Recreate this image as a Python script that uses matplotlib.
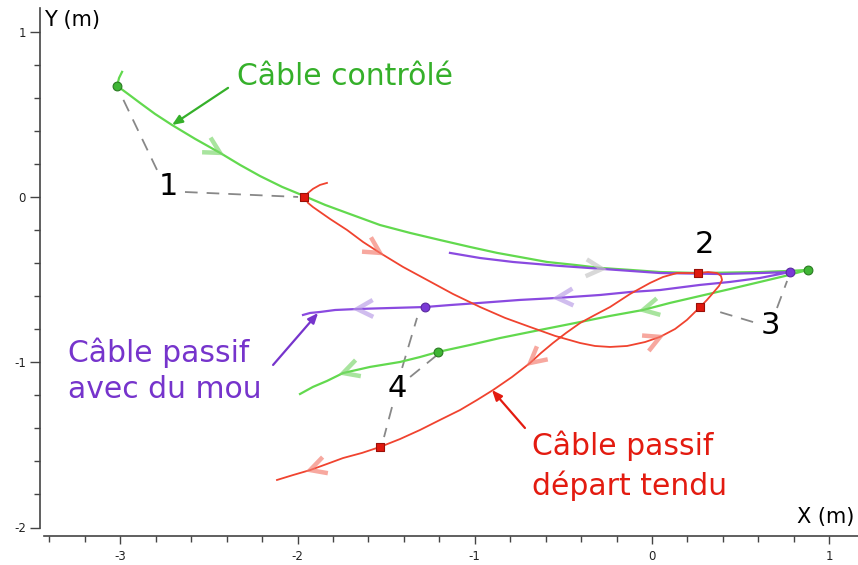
import numpy as np
import matplotlib

matplotlib.use("Agg")
import matplotlib.pyplot as plt
from matplotlib.ticker import MultipleLocator

plt.rcParams["axes.unicode_minus"] = False

# trajectories (m)
green_x = [-2.990, -3.007, -3.018, -2.956, -2.889, -2.804, -2.708, -2.578, -2.437, -2.324,
           -2.212, -2.087, -1.963, -1.845, -1.721, -1.535, -1.365, -1.196, -1.027, -0.874,
           -0.745, -0.592, -0.434, -0.293, -0.124, 0.045, 0.271, 0.609, 0.779, 0.880,
           0.750, 0.609, 0.440, 0.271, 0.102, -0.051, -0.237, -0.406, -0.632, -0.858,
           -1.027, -1.207, -1.309, -1.422, -1.591, -1.743, -1.834, -1.913, -1.986]
green_y = [0.761, 0.724, 0.676, 0.627, 0.573, 0.506, 0.439, 0.355, 0.270, 0.197,
           0.130, 0.064, 0.009, -0.045, -0.094, -0.167, -0.215, -0.258, -0.300, -0.336,
           -0.361, -0.391, -0.409, -0.427, -0.439, -0.452, -0.458, -0.452, -0.445, -0.439,
           -0.476, -0.512, -0.555, -0.597, -0.639, -0.682, -0.718, -0.755, -0.803, -0.852,
           -0.894, -0.936, -0.967, -0.997, -1.027, -1.064, -1.112, -1.148, -1.191]

purple_x = [-1.140, -0.970, -0.784, -0.519, -0.282, 0.045, 0.384, 0.609, 0.779,
            0.694, 0.609, 0.440, 0.271, 0.045, -0.124, -0.293, -0.536, -0.745, -0.970,
            -1.140, -1.281, -1.478, -1.664, -1.788, -1.873, -1.929, -1.969]
purple_y = [-0.336, -0.367, -0.391, -0.415, -0.433, -0.458, -0.464, -0.458, -0.452,
            -0.470, -0.488, -0.512, -0.530, -0.561, -0.573, -0.591, -0.609, -0.621, -0.639,
            -0.652, -0.664, -0.670, -0.676, -0.682, -0.694, -0.700, -0.712]

red_x = [-1.834, -1.873, -1.913, -1.941, -1.958, -1.941, -1.913, -1.817, -1.721, -1.630,
         -1.535, -1.405, -1.269, -1.123, -0.970, -0.829, -0.688, -0.547, -0.406, -0.322,
         -0.237, -0.141, -0.039, 0.045, 0.130, 0.197, 0.271, 0.310, 0.344, 0.378,
         0.395, 0.389, 0.367, 0.316, 0.260, 0.197, 0.141, 0.062, -0.011, -0.124,
         -0.237, -0.322, -0.406, -0.485, -0.559, -0.626, -0.688, -0.790, -0.897, -0.987,
         -1.083, -1.196, -1.309, -1.422, -1.535, -1.636, -1.743, -1.834, -1.929, -2.025,
         -2.116]
red_y = [0.088, 0.076, 0.052, 0.027, 0.003, -0.033, -0.058, -0.130, -0.197, -0.270,
         -0.336, -0.421, -0.500, -0.585, -0.664, -0.730, -0.785, -0.839, -0.882, -0.900,
         -0.906, -0.900, -0.876, -0.845, -0.797, -0.742, -0.664, -0.621, -0.579, -0.536,
         -0.500, -0.476, -0.458, -0.452, -0.458, -0.458, -0.458, -0.482, -0.518, -0.585,
         -0.664, -0.712, -0.761, -0.821, -0.882, -0.942, -1.003, -1.088, -1.167, -1.227,
         -1.288, -1.348, -1.409, -1.464, -1.512, -1.548, -1.579, -1.615, -1.652, -1.682,
         -1.712]

# marked instants
green_pts_x = [-3.018, 0.880, -1.207]
green_pts_y = [0.676, -0.439, -0.936]
red_pts_x = [-1.963, 0.260, 0.271, -1.535]
red_pts_y = [0.003, -0.458, -0.664, -1.512]
purple_pts_x = [0.779, -1.281]
purple_pts_y = [-0.451, -0.664]

# indices of the curve points carrying a direction chevron
green_arrows = [8, 35, 45]
purple_arrows = [16, 22]
purple_gray_arrows = [4]
red_arrows = [10, 23, 46, 58]

x_ticks = [-3, -2, -1, 0, 1]
y_ticks = [-2, -1, 0, 1]

GREEN_LINE = "#62d94e"
GREEN_TEXT = "#35b02a"
PURPLE_LINE = "#8a4ae0"
PURPLE_TEXT = "#7634cc"
RED_LINE = "#f0432f"
RED_TEXT = "#e31b10"


def chevron(ax, xs, ys, i, color, size=18, half_angle=28):
    p_prev = ax.transData.transform((xs[i - 1], ys[i - 1]))
    p_next = ax.transData.transform((xs[i + 1], ys[i + 1]))
    tip = ax.transData.transform((xs[i], ys[i]))
    d = (p_next - p_prev) / np.hypot(*(p_next - p_prev))
    arms = []
    for sgn in (1, -1):
        a = np.deg2rad(180 + sgn * half_angle)
        rot = np.array([[np.cos(a), -np.sin(a)], [np.sin(a), np.cos(a)]])
        arms.append(tip + size * (rot @ d))
    pts = np.array([arms[0], tip, arms[1]])
    data = ax.transData.inverted().transform(pts)
    ax.plot(data[:, 0], data[:, 1], color=color, lw=3.2, alpha=0.65,
            solid_capstyle="butt", solid_joinstyle="miter", zorder=4)


fig = plt.figure(figsize=(8.58, 5.65), dpi=100)
ax = fig.add_axes([40 / 858, 37.5 / 565, 818 / 858, 519.5 / 565])
ax.set_xlim(-3.453, 1.162)
ax.set_ylim(-2.0, 1.148)

for side in ("top", "right"):
    ax.spines[side].set_visible(False)
ax.spines["bottom"].set_position(("outward", 6))
ax.spines["bottom"].set_bounds(-3.43, 1.162)
for side in ("left", "bottom"):
    ax.spines[side].set_color("#444444")
    ax.spines[side].set_linewidth(1.2)

ax.set_xticks(x_ticks)
ax.set_yticks(y_ticks)
ax.xaxis.set_minor_locator(MultipleLocator(0.2))
ax.yaxis.set_minor_locator(MultipleLocator(0.2))
ax.tick_params(axis="x", which="major", direction="out", length=6, width=1, colors="#444444",
               labelsize=8.5, pad=4)
ax.tick_params(axis="x", which="minor", direction="out", length=4, width=1, colors="#444444")
ax.tick_params(axis="y", which="major", direction="out", length=7, width=1, colors="#444444",
               labelsize=8.5, pad=3)
ax.tick_params(axis="y", which="minor", direction="out", length=4, width=1, colors="#444444")
for lab in ax.get_xticklabels() + ax.get_yticklabels():
    lab.set_color("#222222")

ax.text(0.005, 0.977, "Y (m)", transform=ax.transAxes, fontsize=15, ha="left", va="center")
ax.text(0.995, 0.02, "X (m)", transform=ax.transAxes, fontsize=15, ha="right", va="center")

# curves
ax.plot(green_x, green_y, color=GREEN_LINE, lw=1.6, zorder=3)
ax.plot(purple_x, purple_y, color=PURPLE_LINE, lw=1.6, zorder=3)
ax.plot(red_x, red_y, color=RED_LINE, lw=1.3, zorder=3)

for i in green_arrows:
    chevron(ax, green_x, green_y, i, "#7ad66a")
for i in purple_arrows:
    chevron(ax, purple_x, purple_y, i, "#b79ae6")
for i in purple_gray_arrows:
    chevron(ax, purple_x, purple_y, i, "#c4c4c4")
for i in red_arrows:
    chevron(ax, red_x, red_y, i, "#f37a6c")

# dashed leaders to the numbered instants
dash = dict(color="#888888", lw=1.3, dashes=(7, 5), zorder=2)
ax.plot([-2.793, -3.001], [0.167, 0.633], **dash)
ax.plot([-2.635, -1.997], [0.033, 0.003], **dash)
ax.plot([0.570, 0.344], [-0.755, -0.682], **dash)
ax.plot([0.705, 0.762], [-0.670, -0.506], **dash)
ax.plot([-1.410, -1.326], [-1.033, -0.730], **dash)
ax.plot([-1.365, -1.213], [-1.088, -0.955], **dash)
ax.plot([-1.467, -1.512], [-1.270, -1.452], **dash)

ax.scatter(green_pts_x, green_pts_y, s=40, marker="o", color="#3fb535", edgecolors="#2a7a22",
           linewidths=0.8, zorder=5)
ax.scatter(purple_pts_x, purple_pts_y, s=40, marker="o", color="#7a3ad6", edgecolors="#5a2aa0",
           linewidths=0.8, zorder=5)
ax.scatter(red_pts_x, red_pts_y, s=38, marker="s", color="#e0180e", edgecolors="#9a1008",
           linewidths=0.8, zorder=5)

for label, lx, ly in [("1", -2.731, 0.064), ("2", 0.293, -0.288),
                      ("3", 0.666, -0.773), ("4", -1.439, -1.155)]:
    ax.text(lx, ly, label, fontsize=22, ha="center", va="center", color="black", zorder=6)

# cable names with pointers
arrow_kw = dict(arrowstyle="-|>,head_length=0.6,head_width=0.25", lw=1.6, shrinkA=0, shrinkB=0)
ax.annotate("", xy=(-2.708, 0.439), xytext=(-2.392, 0.664),
            arrowprops=dict(color=GREEN_TEXT, **arrow_kw))
ax.annotate("", xy=(-1.884, -0.700), xytext=(-2.138, -1.015),
            arrowprops=dict(color=PURPLE_TEXT, **arrow_kw))
ax.annotate("", xy=(-0.903, -1.167), xytext=(-0.717, -1.397),
            arrowprops=dict(color=RED_TEXT, **arrow_kw))

ax.text(-2.341, 0.730, "Câble contrôlé", fontsize=21.5, color=GREEN_TEXT, ha="left", va="center")
ax.text(-3.295, -1.052, "Câble passif\navec du mou", fontsize=21.5, color=PURPLE_TEXT,
        ha="left", va="center", linespacing=1.3)
ax.text(-0.677, -1.627, "Câble passif\ndépart tendu", fontsize=21.5, color=RED_TEXT,
        ha="left", va="center", linespacing=1.4)

fig.savefig("out.png", dpi=100)
